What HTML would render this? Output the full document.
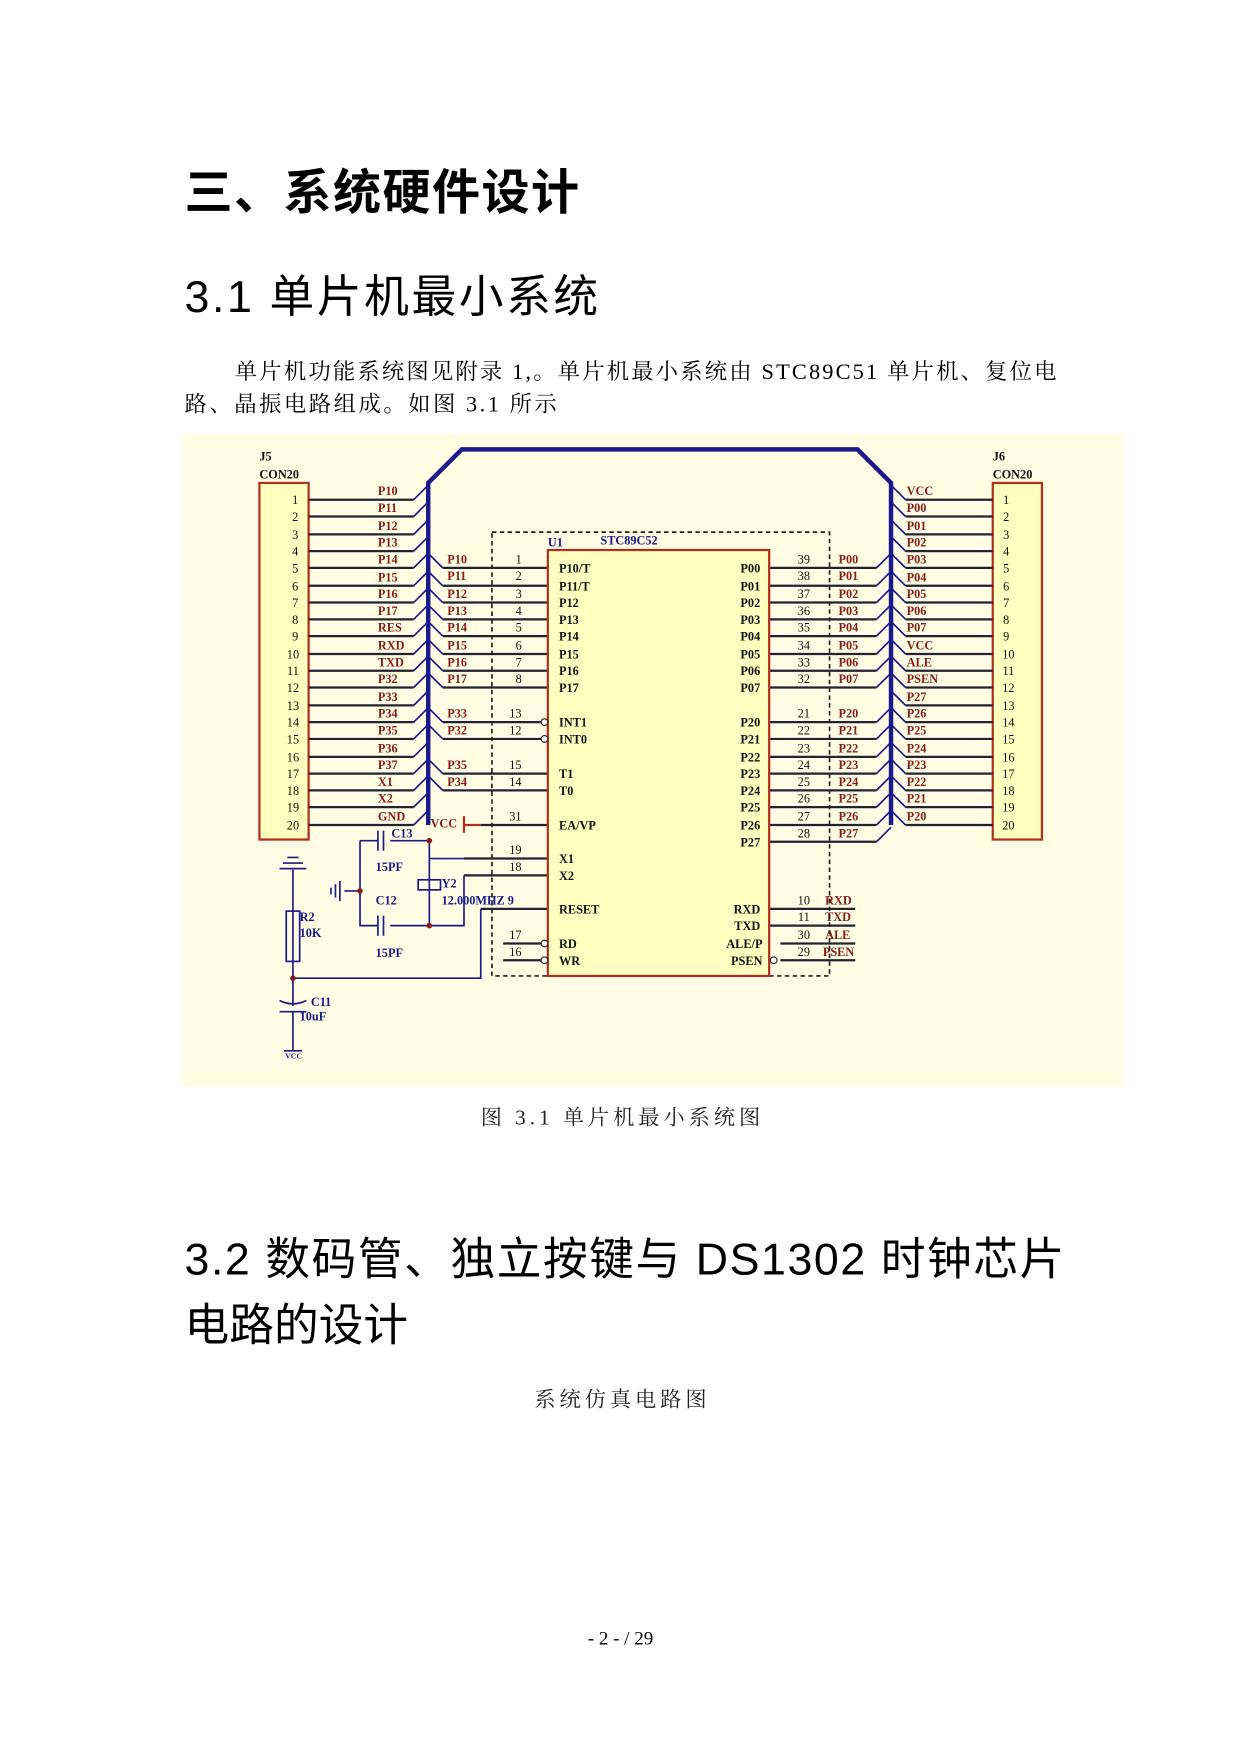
<!DOCTYPE html>
<html><head><meta charset="utf-8"><style>
html,body{margin:0;padding:0;background:#fff;}
svg{display:block}
.cj{font-family:"Liberation Serif","Noto Serif CJK SC","Noto Sans CJK SC",serif;}
.h{font-family:"Liberation Sans","Noto Sans CJK SC",sans-serif;}
.l{font-family:"Liberation Serif",serif;font-size:11px;fill:#8a1a1a;font-weight:bold}
.n{font-family:"Liberation Serif",serif;font-size:11px;fill:#111}
.c{font-family:"Liberation Serif",serif;font-size:11px;fill:#111;font-weight:bold}
</style></head><body>
<svg width="1241" height="1754" viewBox="0 0 1110 1569" xmlns="http://www.w3.org/2000/svg">
<rect width="1110" height="1569" fill="#fff"/>
<text x="165" y="187" class="h" font-size="43" font-weight="bold" fill="#000" textLength="353">三、系统硬件设计</text>
<text x="165" y="279" class="h" font-size="40" fill="#000" textLength="370">3.1  单片机最小系统</text>
<text x="210" y="339" class="cj" font-size="20" fill="#000" textLength="735">单片机功能系统图见附录 1,。单片机最小系统由 STC89C51 单片机、复位电</text>
<text x="165" y="368" class="cj" font-size="20" fill="#000" textLength="333">路、晶振电路组成。如图 3.1 所示</text>
<rect x="163" y="388" width="842" height="584" fill="#fffde3"/>
<!-- buses -->
<path d="M383 738 V432 L413 402 H767 L797 432 V738" fill="none" stroke="#1a1a8c" stroke-width="4"/>
<!-- J5 -->
<rect x="232" y="432" width="44" height="319" fill="#ffffc0" stroke="#b03020" stroke-width="2"/>
<text x="232" y="412" class="c" font-size="10">J5</text><text x="232" y="428" class="c" font-size="10">CON20</text>
<rect x="888" y="432" width="44" height="319" fill="#ffffc0" stroke="#b03020" stroke-width="2"/>
<text x="888" y="412" class="c" font-size="10">J6</text><text x="888" y="428" class="c" font-size="10">CON20</text>
<g stroke="#223" stroke-width="2" fill="none">
<path d="M276 447H370M276 462H370M276 478H370M276 493H370M276 508H370M276 524H370M276 539H370M276 554H370M276 569H370M276 585H370M276 600H370M276 615H370M276 631H370M276 646H370M276 661H370M276 677H370M276 692H370M276 707H370M276 722H370M276 738H370"/>
<path d="M810 447H888M810 462H888M810 478H888M810 493H888M810 508H888M810 524H888M810 539H888M810 554H888M810 569H888M810 585H888M810 600H888M810 615H888M810 631H888M810 646H888M810 661H888M810 677H888M810 692H888M810 707H888M810 722H888M810 738H888"/>
<path d="M396 508H490M396 524H490M396 539H490M396 554H490M396 569H490M396 585H490M396 600H490M396 615H490M396 646H484M396 661H484M396 692H490M396 707H490M430 738H490M415 768H490M415 783H490M430 813H490M450 844H484M450 859H484"/>
<path d="M688 508H784M688 524H784M688 539H784M688 554H784M688 569H784M688 585H784M688 600H784M688 615H784M688 646H784M688 661H784M688 677H784M688 692H784M688 707H784M688 722H784M688 738H784M688 753H784M688 813H765M688 828H765M698 844H765M698 859H765"/>
</g>
<g stroke="#1a1a8c" stroke-width="1.5">
<path d="M370 447l13-13M370 462l13-13M370 478l13-13M370 493l13-13M370 508l13-13M370 524l13-13M370 539l13-13M370 554l13-13M370 569l13-13M370 585l13-13M370 600l13-13M370 615l13-13M370 631l13-13M370 646l13-13M370 661l13-13M370 677l13-13M370 692l13-13M370 707l13-13M370 722l13-13M370 738l13-13"/>
<path d="M396 508l-13-13M396 524l-13-13M396 539l-13-13M396 554l-13-13M396 569l-13-13M396 585l-13-13M396 600l-13-13M396 615l-13-13M396 646l-13-13M396 661l-13-13M396 692l-13-13M396 707l-13-13"/>
<path d="M810 447l-13-13M810 462l-13-13M810 478l-13-13M810 493l-13-13M810 508l-13-13M810 524l-13-13M810 539l-13-13M810 554l-13-13M810 569l-13-13M810 585l-13-13M810 600l-13-13M810 615l-13-13M810 631l-13-13M810 646l-13-13M810 661l-13-13M810 677l-13-13M810 692l-13-13M810 707l-13-13M810 722l-13-13M810 738l-13-13"/>
<path d="M784 508l13-13M784 524l13-13M784 539l13-13M784 554l13-13M784 569l13-13M784 585l13-13M784 600l13-13M784 615l13-13M784 646l13-13M784 661l13-13M784 677l13-13M784 692l13-13M784 707l13-13M784 722l13-13M784 738l13-13M784 753l13-13"/>
</g>
<g class="n" text-anchor="middle">
<text x="264" y="451">1</text><text x="264" y="466">2</text><text x="264" y="482">3</text><text x="264" y="497">4</text><text x="264" y="512">5</text><text x="264" y="528">6</text><text x="264" y="543">7</text><text x="264" y="558">8</text><text x="264" y="573">9</text><text x="262" y="589">10</text><text x="262" y="604">11</text><text x="262" y="619">12</text><text x="262" y="635">13</text><text x="262" y="650">14</text><text x="262" y="665">15</text><text x="262" y="681">16</text><text x="262" y="696">17</text><text x="262" y="711">18</text><text x="262" y="726">19</text><text x="262" y="742">20</text>
<text x="900" y="451">1</text><text x="900" y="466">2</text><text x="900" y="482">3</text><text x="900" y="497">4</text><text x="900" y="512">5</text><text x="900" y="528">6</text><text x="900" y="543">7</text><text x="900" y="558">8</text><text x="900" y="573">9</text><text x="902" y="589">10</text><text x="902" y="604">11</text><text x="902" y="619">12</text><text x="902" y="635">13</text><text x="902" y="650">14</text><text x="902" y="665">15</text><text x="902" y="681">16</text><text x="902" y="696">17</text><text x="902" y="711">18</text><text x="902" y="726">19</text><text x="902" y="742">20</text>
<text x="464" y="504">1</text><text x="464" y="519">2</text><text x="464" y="535">3</text><text x="464" y="550">4</text><text x="464" y="565">5</text><text x="464" y="581">6</text><text x="464" y="596">7</text><text x="464" y="611">8</text><text x="461" y="642">13</text><text x="461" y="657">12</text><text x="461" y="688">15</text><text x="461" y="703">14</text><text x="461" y="734">31</text><text x="461" y="764">19</text><text x="461" y="779">18</text><text x="461" y="840">17</text><text x="461" y="855">16</text>
<text x="719" y="504">39</text><text x="719" y="519">38</text><text x="719" y="535">37</text><text x="719" y="550">36</text><text x="719" y="565">35</text><text x="719" y="581">34</text><text x="719" y="596">33</text><text x="719" y="611">32</text><text x="719" y="642">21</text><text x="719" y="657">22</text><text x="719" y="673">23</text><text x="719" y="688">24</text><text x="719" y="703">25</text><text x="719" y="718">26</text><text x="719" y="734">27</text><text x="719" y="749">28</text><text x="719" y="809">10</text><text x="719" y="824">11</text><text x="719" y="840">30</text><text x="719" y="855">29</text>
</g>
<g class="l">
<text x="338" y="443">P10</text><text x="338" y="458">P11</text><text x="338" y="474">P12</text><text x="338" y="489">P13</text><text x="338" y="504">P14</text><text x="338" y="520">P15</text><text x="338" y="535">P16</text><text x="338" y="550">P17</text><text x="338" y="565">RES</text><text x="338" y="581">RXD</text><text x="338" y="596">TXD</text><text x="338" y="611">P32</text><text x="338" y="627">P33</text><text x="338" y="642">P34</text><text x="338" y="657">P35</text><text x="338" y="673">P36</text><text x="338" y="688">P37</text><text x="338" y="703">X1</text><text x="338" y="718">X2</text><text x="338" y="734">GND</text>
<text x="400" y="504">P10</text><text x="400" y="519">P11</text><text x="400" y="535">P12</text><text x="400" y="550">P13</text><text x="400" y="565">P14</text><text x="400" y="581">P15</text><text x="400" y="596">P16</text><text x="400" y="611">P17</text><text x="400" y="642">P33</text><text x="400" y="657">P32</text><text x="400" y="688">P35</text><text x="400" y="703">P34</text>
<text x="750" y="504">P00</text><text x="750" y="519">P01</text><text x="750" y="535">P02</text><text x="750" y="550">P03</text><text x="750" y="565">P04</text><text x="750" y="581">P05</text><text x="750" y="596">P06</text><text x="750" y="611">P07</text><text x="750" y="642">P20</text><text x="750" y="657">P21</text><text x="750" y="673">P22</text><text x="750" y="688">P23</text><text x="750" y="703">P24</text><text x="750" y="718">P25</text><text x="750" y="734">P26</text><text x="750" y="749">P27</text><text x="738" y="809">RXD</text><text x="738" y="824">TXD</text><text x="738" y="840">ALE</text><text x="736" y="855">PSEN</text>
<text x="811" y="443">VCC</text><text x="811" y="458">P00</text><text x="811" y="474">P01</text><text x="811" y="489">P02</text><text x="811" y="504">P03</text><text x="811" y="520">P04</text><text x="811" y="535">P05</text><text x="811" y="550">P06</text><text x="811" y="565">P07</text><text x="811" y="581">VCC</text><text x="811" y="596">ALE</text><text x="811" y="611">PSEN</text><text x="811" y="627">P27</text><text x="811" y="642">P26</text><text x="811" y="657">P25</text><text x="811" y="673">P24</text><text x="811" y="688">P23</text><text x="811" y="703">P22</text><text x="811" y="718">P21</text><text x="811" y="734">P20</text>
<text x="385" y="740">VCC</text>
</g>
<!-- dashed box & chip -->
<rect x="440" y="476" width="302" height="397" fill="none" stroke="#222" stroke-width="1.5" stroke-dasharray="4,3"/>
<rect x="490" y="492" width="198" height="381" fill="#ffffc0" stroke="#b03020" stroke-width="2"/>
<text x="490" y="489" class="c" style="fill:#1a1a8c">U1</text>
<text x="537" y="487" class="c" style="fill:#1a1a8c">STC89C52</text>
<g class="c">
<text x="500" y="512">P10/T</text><text x="500" y="528">P11/T</text><text x="500" y="543">P12</text><text x="500" y="558">P13</text><text x="500" y="573">P14</text><text x="500" y="589">P15</text><text x="500" y="604">P16</text><text x="500" y="619">P17</text><text x="500" y="650">INT1</text><text x="500" y="665">INT0</text><text x="500" y="696">T1</text><text x="500" y="711">T0</text><text x="500" y="742">EA/VP</text><text x="500" y="772">X1</text><text x="500" y="787">X2</text><text x="500" y="817">RESET</text><text x="500" y="848">RD</text><text x="500" y="863">WR</text>
</g>
<g class="c" text-anchor="end">
<text x="680" y="512">P00</text><text x="680" y="528">P01</text><text x="680" y="543">P02</text><text x="680" y="558">P03</text><text x="680" y="573">P04</text><text x="680" y="589">P05</text><text x="680" y="604">P06</text><text x="680" y="619">P07</text><text x="680" y="650">P20</text><text x="680" y="665">P21</text><text x="680" y="681">P22</text><text x="680" y="696">P23</text><text x="680" y="711">P24</text><text x="680" y="726">P25</text><text x="680" y="742">P26</text><text x="680" y="757">P27</text><text x="680" y="817">RXD</text><text x="680" y="832">TXD</text><text x="682" y="848">ALE/P</text><text x="682" y="863">PSEN</text>
</g>
<g fill="#fff" stroke="#222"><circle cx="487" cy="646" r="3"/><circle cx="487" cy="661" r="3"/><circle cx="487" cy="844" r="3"/><circle cx="487" cy="859" r="3"/><circle cx="692" cy="859" r="3"/></g>
<!-- bottom-left circuit -->
<g stroke="#1a1a8c" stroke-width="1.5" fill="none">
<path d="M322 752V828H338M349 828H384V800M322 752H338M349 752H384V768H415M384 752V783M384 800V828M384 783V800M384 828H415V783"/>
<path d="M338 743v18M343 743v18M338 819v18M343 819v18"/>
<rect x="374" y="787" width="20" height="9"/>
<path d="M322 797H308M304 788v18M300 791v12M296 794v6"/>
<path d="M262 778V900M250 777h24M253 772h18M257 767h10M262 875H430V813"/>
<rect x="256" y="815" width="12" height="45"/>
<path d="M250 895q12 6 24 0M250 905h24M262 905V940M254 940h16"/>
</g>
<path d="M415 730V745M415 738H430" stroke="#b03020" stroke-width="2"/>
<g fill="#8a1a1a"><circle cx="384" cy="752" r="2.5"/><circle cx="384" cy="828" r="2.5"/><circle cx="322" cy="797" r="2.5"/><circle cx="262" cy="875" r="2.5"/></g>
<g class="c" style="fill:#1a1a8c" font-size="10">
<text x="350" y="749">C13</text><text x="336" y="779">15PF</text><text x="336" y="809">C12</text><text x="336" y="856">15PF</text><text x="395" y="794">Y2</text><text x="395" y="809">12.000MHZ 9</text><text x="268" y="824">R2</text><text x="268" y="838">10K</text><text x="278" y="900">C11</text><text x="268" y="913">10uF</text><text x="255" y="947" font-size="7">VCC</text>
</g>
<text x="430" y="1006" class="cj" font-size="19" fill="#222" textLength="250">图 3.1  单片机最小系统图</text>
<text x="165" y="1140" class="h" font-size="40" fill="#000" textLength="787">3.2  数码管、独立按键与 DS1302 时钟芯片</text>
<text x="165" y="1199" class="h" font-size="40" fill="#000" textLength="200">电路的设计</text>
<text x="478" y="1258" class="cj" font-size="19" fill="#222" textLength="154">系统仿真电路图</text>
<text x="555" y="1471" text-anchor="middle" class="cj" font-size="17" fill="#000">- 2 - / 29</text>
</svg>
</body></html>
